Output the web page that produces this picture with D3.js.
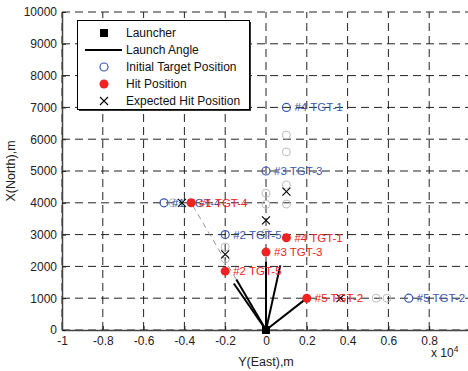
<!DOCTYPE html>
<html><head><meta charset="utf-8">
<script src="https://cdn.jsdelivr.net/npm/d3@7"></script>
<style>
body{margin:0;background:#fff;}
svg{display:block;font-family:"Liberation Sans",Arial,sans-serif;}
</style></head>
<body>
<svg id="c" width="468" height="371"></svg>
<script>
// ---- data (Y = East, X = North, metres) ----
const targetNames = ["#1 TGT-4","#2 TGT-5","#3 TGT-3","#4 TGT-1","#5 TGT-2"];
const initEast  = [-5000,-2000,0,1000,7000];
const initNorth = [4000,3000,5000,7000,1000];
const hitEast   = [-3670,-2000,0,1000,2000];
const hitNorth  = [4000,1850,2450,2900,1000];
const expEast   = [-4120,-2000,0,1000,3650];
const expNorth  = [4000,2380,3450,4350,1000];
const launchAngleDeg = [-42.5,-47.2,0,19.0,63.4];
const launchLength = 2150;
const launcherEast = [0], launcherNorth = [0];
const trackEast  = [-4560,-2000,-2000,0,0,0,1000,1000,1000,1000,5400,5930];
const trackNorth = [4000,2610,2230,4300,3950,3050,6130,5600,4560,3960,1000,1000];
const xTicks = [-1,-0.8,-0.6,-0.4,-0.2,0,0.2,0.4,0.6,0.8,1];
const yTicks = [0,1000,2000,3000,4000,5000,6000,7000,8000,9000,10000];
const legendLabels = ["Launcher","Launch Angle","Initial Target Position","Hit Position","Expected Hit Position"];

const blue = "#3a58b0", red = "#f22222", gray = "#bdbdbd";
const svg = d3.select("#c");
const x = d3.scaleLinear().domain([-10000,10000]).range([62,470]);
const y = d3.scaleLinear().domain([0,10000]).range([330,12]);

// grid
const g = svg.append("g");
g.selectAll(".vg").data(xTicks).join("line")
  .attr("x1",d=>x(d*1e4)).attr("x2",d=>x(d*1e4)).attr("y1",y(0)).attr("y2",y(10000))
  .attr("stroke","#222").attr("stroke-width",1).attr("stroke-dasharray","8,5");
g.selectAll(".hg").data(yTicks).join("line")
  .attr("x1",x(-10000)).attr("x2",x(10000)).attr("y1",d=>y(d)).attr("y2",d=>y(d))
  .attr("stroke","#222").attr("stroke-width",1).attr("stroke-dasharray","8,5");

// axes
const xAxis = d3.axisBottom(x).tickValues(xTicks.map(d=>d*1e4)).tickFormat((d,i)=>String(xTicks[i])).tickSizeInner(-4).tickSizeOuter(0).tickPadding(6);
const yAxis = d3.axisLeft(y).tickValues(yTicks).tickFormat(d3.format("d")).tickSizeInner(-4).tickSizeOuter(0).tickPadding(5);
const ax = svg.append("g").attr("transform",`translate(0,${y(0)})`).call(xAxis);
const ay = svg.append("g").attr("transform",`translate(${x(-10000)},0)`).call(yAxis);
[ax,ay].forEach(a=>{
  a.select(".domain").attr("stroke","#444").attr("stroke-width",1.5);
  a.selectAll(".tick line").attr("stroke","#222");
  a.selectAll(".tick text").attr("fill","#222").attr("font-size",12).attr("font-family","Liberation Sans, Arial, sans-serif");
});
svg.append("text").attr("x",266).attr("y",366).attr("text-anchor","middle").attr("font-size",12.5).attr("fill","#222").text("Y(East),m");
svg.append("text").attr("transform",`translate(15,171) rotate(-90)`).attr("text-anchor","middle").attr("font-size",12.5).attr("fill","#222").text("X(North),m");
const mult = svg.append("text").attr("x",431).attr("y",357).attr("font-size",12).attr("fill","#222");
mult.append("tspan").text("x 10");
mult.append("tspan").attr("dy",-5).attr("font-size",8.5).text("4");

// trajectory (gray dashed) from launch-line end to hit #1
const l0 = 0;
const a0 = launchAngleDeg[l0]*Math.PI/180;
svg.append("line")
  .attr("x1",x(launchLength*Math.sin(a0))).attr("y1",y(launchLength*Math.cos(a0)))
  .attr("x2",x(hitEast[l0])).attr("y2",y(hitNorth[l0]))
  .attr("stroke","#999").attr("stroke-width",1).attr("stroke-dasharray","6,4");

// gray intermediate target circles
svg.selectAll(".trk").data(trackEast).join("circle")
  .attr("cx",d=>x(d)).attr("cy",(d,i)=>y(trackNorth[i])).attr("r",4)
  .attr("fill","none").attr("stroke",gray).attr("stroke-width",1);

// launch angle lines
svg.selectAll(".la").data(launchAngleDeg).join("line")
  .attr("x1",x(launcherEast[0])).attr("y1",y(launcherNorth[0]))
  .attr("x2",d=>x(launchLength*Math.sin(d*Math.PI/180)))
  .attr("y2",d=>y(launchLength*Math.cos(d*Math.PI/180)))
  .attr("stroke","#000").attr("stroke-width",2);

// initial positions + labels
svg.selectAll(".ini").data(initEast).join("circle")
  .attr("cx",d=>x(d)).attr("cy",(d,i)=>y(initNorth[i])).attr("r",4)
  .attr("fill","none").attr("stroke",blue).attr("stroke-width",1.2);
svg.selectAll(".inil").data(initEast).join("text")
  .attr("x",d=>x(d)+8).attr("y",(d,i)=>y(initNorth[i])+4)
  .attr("font-size",11.5).attr("fill",blue).text((d,i)=>targetNames[i]);

// expected hit positions
const xs = 4;
svg.selectAll(".exp").data(expEast).join("path")
  .attr("d",(d,i)=>{const cx=x(d), cy=y(expNorth[i]);
    return `M${cx-xs},${cy-xs}L${cx+xs},${cy+xs}M${cx-xs},${cy+xs}L${cx+xs},${cy-xs}`;})
  .attr("stroke","#000").attr("stroke-width",1.1).attr("fill","none");

// hit positions + labels
svg.selectAll(".hit").data(hitEast).join("circle")
  .attr("cx",d=>x(d)).attr("cy",(d,i)=>y(hitNorth[i])).attr("r",4.5).attr("fill",red);
svg.selectAll(".hitl").data(hitEast).join("text")
  .attr("x",d=>x(d)+8).attr("y",(d,i)=>y(hitNorth[i])+4)
  .attr("font-size",11.5).attr("fill",red).text((d,i)=>targetNames[i]);

// launcher
svg.selectAll(".lau").data(launcherEast).join("rect")
  .attr("x",d=>x(d)-4).attr("y",(d,i)=>y(launcherNorth[i])-4).attr("width",8).attr("height",8).attr("fill","#000");

// legend
const lg = svg.append("g");
lg.append("rect").attr("x",79).attr("y",22).attr("width",172).attr("height",89).attr("fill","#333");
lg.append("rect").attr("x",77.5).attr("y",20.5).attr("width",172).attr("height",89).attr("fill","#fff").attr("stroke","#000").attr("stroke-width",1);
const ly = [33,50,67,84,101];
const sx = 104;
lg.append("rect").attr("x",sx-4).attr("y",ly[0]-4).attr("width",8).attr("height",8).attr("fill","#000");
lg.append("line").attr("x1",85).attr("x2",122).attr("y1",ly[1]).attr("y2",ly[1]).attr("stroke","#000").attr("stroke-width",2);
lg.append("circle").attr("cx",sx).attr("cy",ly[2]).attr("r",4).attr("fill","none").attr("stroke",blue).attr("stroke-width",1.2);
lg.append("circle").attr("cx",sx).attr("cy",ly[3]).attr("r",4.5).attr("fill",red);
lg.append("path").attr("d",`M${sx-xs},${ly[4]-xs}L${sx+xs},${ly[4]+xs}M${sx-xs},${ly[4]+xs}L${sx+xs},${ly[4]-xs}`).attr("stroke","#000").attr("stroke-width",1.1);
lg.selectAll(".lt").data(legendLabels).join("text")
  .attr("x",126).attr("y",(d,i)=>ly[i]+4).attr("font-size",12).attr("fill","#111").text(d=>d);
</script>
</body></html>
